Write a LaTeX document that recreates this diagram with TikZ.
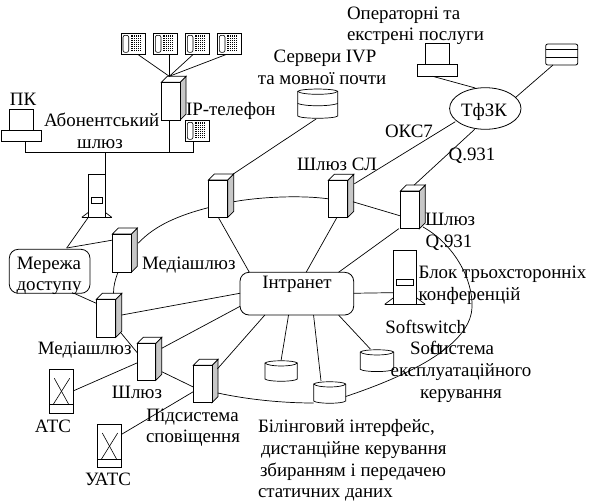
\documentclass[tikz,border=0pt]{standalone}
\usepackage{fontspec}
\setmainfont{Liberation Serif}
\usetikzlibrary{shapes.geometric}
\tikzset{
  lbl/.style={inner sep=0pt,outer sep=0pt,font=\fontsize{18.9}{21}\selectfont,text=black,anchor=base,yshift=-5.5pt},
  lblL/.style={lbl,anchor=base west},
  lblR/.style={lbl,anchor=base east},
  box/.style={draw,line width=.8pt,fill=white,inner sep=0pt,outer sep=0pt},
  wire/.style={line width=.7pt},
  side/.style={draw,line width=.7pt,fill=black!22},
  topf/.style={draw,line width=.7pt,fill=white},
  ghost/.style={inner sep=0pt,outer sep=0pt}
}
% server: name, left, top, right, bottom of the front face
\newcommand{\srvbox}[5]{%
  \path[side] (#4,#3) -- ++(6,-6) -- (#4+6,#5-6) -- (#4,#5) -- cycle;
  \path[topf] (#2,#3) -- ++(6,-6) -- (#4+6,#3-6) -- (#4,#3) -- cycle;
  \node[box,minimum width=#4pt-#2pt,minimum height=#5pt-#3pt,anchor=north west] (#1) at (#2,#3) {};
}
% phone: name, left, top
\newcommand{\phonebox}[3]{%
  \node[box,minimum width=24.5pt,minimum height=21pt,anchor=north west] (#1) at (#2,#3) {};
  \draw[line width=.6pt,rounded corners=2pt] (#2+2,#3+2) rectangle (#2+7.7,#3+19);
  \fill[black] (#2+9.7,#3+1.7) rectangle (#2+20.5,#3+19);
  \foreach \k in {2,4,...,16} {\draw[white,line width=.35pt] (#2+9.7,#3+1.7+\k) -- ++(10.8,0);}
  \foreach \k in {2,4,...,10} {\draw[white,line width=.35pt] (#2+9.7+\k,#3+1.7) -- ++(0,17.3);}
}
% pc: name, base left, monitor left, monitor top, monitor right, base right, base bottom
\newcommand{\pcbox}[7]{%
  \draw[line width=.8pt,fill=white] (#3,#4+21) -- (#3,#4) -- (#5,#4) -- (#5,#4+21);
  \node[box,minimum width=#6pt-#2pt,minimum height=#7pt-#4pt-21pt,anchor=south west] (#1) at (#2,#7) {};
}
% tower: name, left, top, right, bottom, base overhang
\newcommand{\towerbox}[6]{%
  \draw[line width=.7pt] (#2-#6,#5) -- (#4+#6,#5);
  \draw[line width=.7pt] (#2-#6,#5) -- (#2,#5-#6*.75);
  \draw[line width=.7pt] (#4+#6,#5) -- (#4,#5-#6*.75);
  \node[box,minimum width=#4pt-#2pt,minimum height=#5pt-#3pt,anchor=north west] (#1) at (#2,#3) {};
  \draw[line width=.7pt] (#2+3,{(#3+#5)/2+2}) rectangle (#4-3,{(#3+#5)/2+8});
}
% exchange: name, left, top, inner line y, right, bottom
\newcommand{\pbxbox}[6]{%
  \node[box,minimum width=#5pt-#2pt,minimum height=#6pt-#3pt,anchor=north west] (#1) at (#2,#3) {};
  \draw[line width=.6pt] (#2,#4) -- (#5,#4);
  \draw[line width=.6pt] (#2+5,#3+9) -- (#5-5,#4);
  \draw[line width=.6pt] (#5-4,#3+9) -- (#2+4,#4);
}
% drum: name, left, top, right, bottom
\newcommand{\drumbox}[5]{%
  \path[draw,line width=.7pt,fill=white] (#2,#3+3) .. controls (#2+3,#3) and (#4-3,#3) .. (#4,#3+3)
    -- (#4,#5-3) .. controls (#4-3,#5) and (#2+3,#5) .. (#2,#5-3) -- cycle;
  \draw[line width=.7pt] (#2,#3+3) .. controls (#2+3,#3+7) and (#4-3,#3+7) .. (#4,#3+3);
  \node[ghost,minimum width=#4pt-#2pt,minimum height=#5pt-#3pt,anchor=north west] (#1) at (#2,#3) {};
}
\begin{document}
\begin{tikzpicture}[x=1pt,y=-1pt]
\useasboundingbox (0,0) rectangle (594,501);
\fill[white] (0,0) rectangle (594,501);

% devices
\srvbox{ipgw}{161.3}{82.3}{180}{120}
\srvbox{gwivp}{208.3}{180}{227.7}{217.3}
\srvbox{media}{112.3}{234}{131.3}{272.3}
\srvbox{mediab}{96.3}{299.3}{115.7}{337.3}
\srvbox{gwa}{137.3}{343.3}{155.7}{380.3}
\srvbox{notif}{193.3}{365.3}{212}{402.7}
\srvbox{gwsl}{328.3}{180.3}{347.7}{217.3}
\srvbox{gwq}{400.3}{191}{419.3}{228.7}
\towerbox{subgw}{88.3}{174.3}{105.3}{217.3}{6.5}
\towerbox{softsw}{393.7}{250}{416.3}{304.3}{9}

\phonebox{ph1}{121}{33.3}
\phonebox{ph2}{153.3}{33.3}
\phonebox{ph3}{185.3}{33.3}
\phonebox{ph4}{217.3}{33.3}
\phonebox{ph5}{185.3}{120.3}

\pcbox{pca}{1.3}{9.3}{109.3}{33.7}{41.7}{141.7}
\pcbox{pcb}{417.3}{425.3}{43.3}{449.7}{457.7}{76.3}

\drumbox{dbivp}{297.7}{88.3}{337.7}{119}
\draw[line width=.7pt] (297.7,103.5) .. controls (305,106.5) and (330,106.5) .. (337.7,103.5);
\node[box,minimum width=32pt,minimum height=21pt,anchor=north west,rounded corners=2pt] (dbtop) at (545.7,44) {};
\draw[line width=.7pt] (545.7,49.5) -- (577.7,49.5) (545.7,57.5) -- (577.7,57.5);
\drumbox{dba}{265}{360}{297.3}{382}
\drumbox{dbb}{360.3}{349}{393.7}{372.3}
\drumbox{dbc}{313.7}{381}{345.7}{404}

\pbxbox{ats}{49.3}{369.3}{404.3}{73.7}{413.3}
\pbxbox{uats}{97.3}{424}{459.3}{121.7}{467.3}

\node[draw,line width=.8pt,ellipse,inner sep=0pt,outer sep=0pt,minimum width=71.4pt,minimum height=41.6pt] (pstn) at (485.3,108.5) {};
\node[draw,line width=.8pt,rounded corners=9pt,inner sep=0pt,outer sep=0pt,minimum width=113.7pt,minimum height=42.7pt,anchor=north west] (intra) at (240,272.3) {};
\node[draw,line width=.8pt,rounded corners=9pt,inner sep=0pt,outer sep=0pt,minimum width=80.7pt,minimum height=44pt,anchor=north west] (access) at (9.3,249.3) {};

% ring between the devices
\draw[wire] ([shift={(0,9)}]gwivp.west) .. controls (180,215) and (155,225) .. ([shift={(7,-10)}]media.east);
\draw[wire] ([shift={(6.3,3)}]gwivp.east) .. controls (260,197) and (300,195) .. (gwsl.west);
\draw[wire] ([shift={(5.3,3)}]gwsl.east) -- ([shift={(0,6)}]gwq.west);
\draw[wire] ([shift={(3.7,17.1)}]gwq.east) .. controls (455,245) and (473,280) .. (472,307)
   .. controls (471,340) and (425,370) .. ([shift={(0,4)}]dbc.east);
\draw[wire] ([shift={(0,10.5)}]dbc.west) .. controls (280,403) and (245,399) .. ([shift={(5.8,9)}]notif.east);
\draw[wire] ([shift={(6.3,10)}]gwa.east) -- ([shift={(0,3)}]notif.west);
\draw[wire] ([shift={(5,14.3)}]mediab.east) -- ([shift={(0,-9)}]gwa.west);
\draw[wire] ([shift={(-3.8,0)}]media.south) .. controls (115,280) and (113.5,286) .. ([shift={(7.5,-6)}]mediab.north);

% phones and subscriber bus
\coordinate (ipgwtop) at (169.3,76.3);
\draw[wire] ([xshift=4.4pt]ph1.south) -- (ipgwtop);
\draw[wire] ([xshift=3.75pt]ph2.south) -- (ipgwtop);
\draw[wire] ([xshift=-4.25pt]ph3.south) -- (ipgwtop);
\draw[wire] ([xshift=-2.85pt]ph4.south) -- (ipgwtop);
\draw[wire] ([xshift=3.8pt]pca.south) -- ++(0,10.6) -| ([xshift=-4.25pt]ph5.south);
\draw[wire] ([xshift=-1.35pt]ipgw.south) -- ++(0,32.3);
\draw[wire] (subgw.north east) -- ++(0,-22);

% links
\draw[wire] (subgw.south west) -- ([shift={(-21.6,30.7)}]subgw.south west) coordinate (acctop);
\draw[wire] (acctop) -- ([shift={(0,-13)}]media.west);
\draw[wire] ([shift={(64.7,44)}]access.north west) -- ([shift={(0,4)}]mediab.north west);
\draw[wire] ([shift={(0,1)}]gwa.west) -- ([shift={(0,-0.6)}]ats.east);
\draw[wire] ([shift={(0,7.7)}]notif.west) -- ([shift={(0,-11.4)}]uats.east);
\draw[wire] ([shift={(-1.6,0)}]dbivp.south) -- ([shift={(5.6,-6)}]gwivp.north east);
\draw[wire] ([shift={(-4.8,0)}]pcb.south) -- ([shift={(-10,-20.5)}]pstn.center);
\draw[wire] ([shift={(-8.7,0)}]dbtop.south) -- ([shift={(30,-10.8)}]pstn.center);
\draw[wire] ([shift={(-30,13.2)}]pstn.center) -- ([shift={(6.6,-15)}]gwsl.east);
\draw[wire] ([shift={(-10.6,0)}]pstn.south) -- ([shift={(4.4,-6)}]gwq.north);
\draw[wire] ([shift={(-47.5,0)}]intra.north) -- ([shift={(0.3,0)}]gwivp.south);
\draw[wire] ([shift={(9.3,0)}]intra.north) -- ([shift={(-1,0)}]gwsl.south);
\draw[wire] ([shift={(41.7,0)}]intra.north) -- ([shift={(-11,0)}]gwq.south);
\draw[wire] ([shift={(0,-0.4)}]intra.east) -- ([shift={(0,15.5)}]softsw.west);
\draw[wire] ([shift={(41.7,0)}]intra.south) -- ([shift={(-6.7,0)}]dbb.north);
\draw[wire] ([shift={(16.7,0)}]intra.south) -- ([shift={(-8.7,0)}]dbc.north);
\draw[wire] ([shift={(-8.3,0)}]intra.south) -- ([shift={(0,0)}]dba.north);
\draw[wire] ([shift={(-32,0)}]intra.south) -- ([shift={(5.3,-15)}]notif.east);
\draw[wire] ([shift={(0,12.7)}]intra.west) -- ([shift={(6,-13.5)}]gwa.east);
\draw[wire] ([shift={(0,-0.4)}]intra.west) -- ([shift={(6,-3.3)}]mediab.east);

% labels
\node[lbl] (tpk) at (23,100) {ПК};
\node[lblL] (tab) at (44,121) {Абонентський};
\node[lbl] (tsh) at (100,143) {шлюз};
\node[lblL] (tip) at (186,110) {IP-телефон};
\node[lbl] (tsv1) at (325,57) {Сервери IVP};
\node[lbl] (tsv2) at (322,79) {та мовної почти};
\node[lblL] (top1) at (347,14) {Операторні та};
\node[lblL] (top2) at (347,35) {екстрені послуги};
\node[lbl] (tpstn) at (484,111) {ТфЗК};
\node[lbl] (toks) at (409,132) {ОКС7};
\node[lbl] (tq1) at (472,155) {Q.931};
\node[lbl] (tsl) at (337,165) {Шлюз СЛ};
\node[lblL] (tgq) at (425,220) {Шлюз};
\node[lbl] (tq2) at (449,242) {Q.931};
\node[lblL] (tmg) at (142,264) {Медіашлюз};
\node[lbl] (tacc1) at (49,264) {Мережа};
\node[lbl] (tacc2) at (49,285) {доступу};
\node[lbl] (tint) at (297,283) {Інтранет};
\node[lblL] (tbl1) at (418.7,273) {Блок трьохсторонніх};
\node[lblL] (tbl2) at (418.7,295) {конференцій};
\node[lblL] (tss) at (385.3,328) {Softswitch};
\node[lblL] (tsoft) at (410,349) {Soft};
\node[lblR] (tsys) at (494,349) {система};
\node[lbl] (tex1) at (461,371) {експлуатаційного};
\node[lbl] (tex2) at (461,393) {керування};
\node[lbl] (tmg2) at (84.7,349) {Медіашлюз};
\node[lbl] (tgw) at (137,393) {Шлюз};
\node[lbl] (tats) at (53,427) {АТС};
\node[lbl] (tuats) at (108,480) {УАТС};
\node[lbl] (tn1) at (192.5,416) {Підсистема};
\node[lbl] (tn2) at (193,437) {сповіщення};
\node[lblL] (tb1) at (258,427) {Білінговий інтерфейс,};
\node[lblL] (tb2) at (261,449) {дистанційне керування};
\node[lblL] (tb3) at (260,471) {збиранням і передачею};
\node[lblL] (tb4) at (258,492) {статичних даних};
\end{tikzpicture}
\end{document}
